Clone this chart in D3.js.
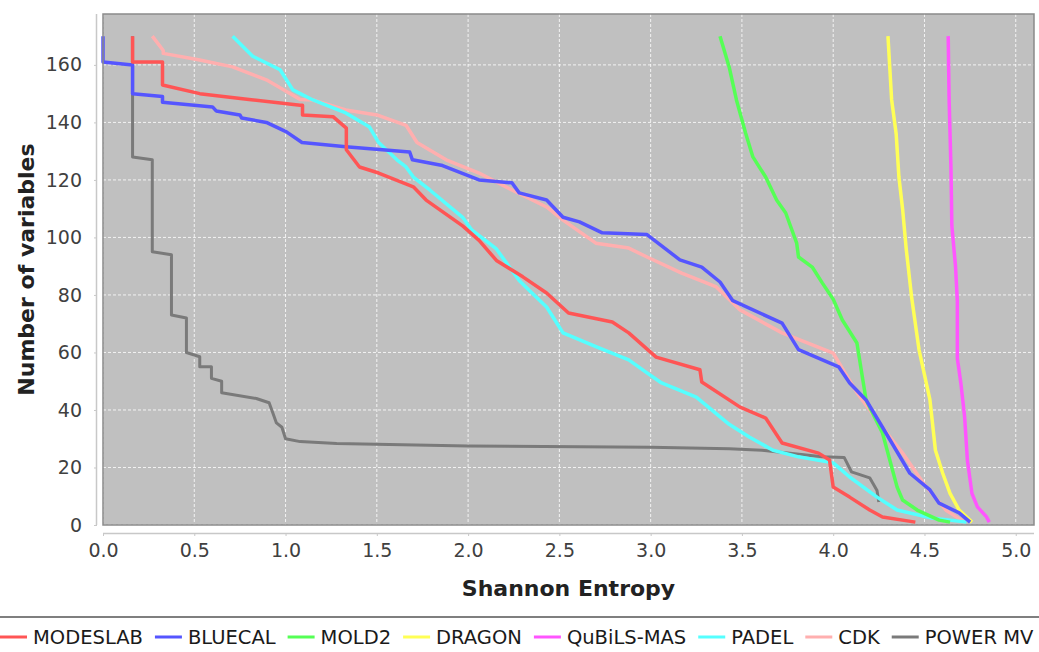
<!DOCTYPE html>
<html>
<head>
<meta charset="utf-8">
<script src="https://cdn.jsdelivr.net/npm/d3@7"></script>
<style>
	body { margin: 0; background: #fff; }
	svg { display: block; font-family: "DejaVu Sans", sans-serif; }
</style>
</head>
<body>
<div id="graph"></div>
<script>
// series names, in legend order
var seriesNames = ["MODESLAB", "BLUECAL", "MOLD2", "DRAGON", "QuBiLS-MAS", "PADEL", "CDK", "POWER MV"];

// [Shannon entropy, number of variables]
var modeslab = [[0.162,170],[0.162,161],[0.326,161],[0.326,153],[0.53,150],[0.80,148],[1.08,146],[1.093,146],[1.093,142.6],
	[1.26,142],[1.333,138],[1.333,130.5],[1.405,124.5],[1.51,122.4],[1.70,117.6],[1.77,113],[1.97,104],[2.06,99],[2.155,92],
	[2.30,86.3],[2.43,80.7],[2.55,73.7],[2.79,70.6],[2.88,66.8],[3.03,58.4],[3.27,54],[3.28,49.7],[3.49,41],[3.63,37.2],
	[3.72,28.5],[3.92,25],[3.98,22.6],[4.0,13.2],[4.09,9.7],[4.2,5.2],[4.27,2.8],[4.45,1]];
var bluecal = [[0,170],[0,161],[0.162,160],[0.162,150],[0.326,149],[0.326,147],[0.60,145.4],[0.62,144],[0.75,142.6],
	[0.76,141.5],[0.895,140],[1.005,136.7],[1.09,133],[1.33,131.5],[1.68,129.7],[1.695,127],[1.86,125],[2.06,120],[2.24,119],
	[2.28,115.5],[2.43,113],[2.52,107],[2.61,105.4],[2.735,101.6],[2.98,101],[3.16,92.2],[3.28,89.7],[3.38,84.5],[3.45,78],
	[3.72,70.2],[3.81,61],[4.03,55],[4.09,49.4],[4.18,43.5],[4.27,34],[4.42,18],[4.53,12.2],[4.58,7.6],[4.69,4.2],[4.75,1]];
var mold2 = [[3.38,170],[3.43,159.3],[3.47,147.8],[3.52,136.3],[3.56,128],[3.63,121],[3.69,113],[3.74,108.5],[3.80,98],
	[3.81,93.2],[3.885,89.7],[3.94,84.2],[4.0,78.5],[4.05,71.3],[4.13,63.3],[4.18,43.5],[4.27,32],[4.35,13.2],[4.38,8.7],
	[4.46,5.2],[4.58,1.7],[4.64,1]];
var dragon = [[4.30,170],[4.31,159],[4.32,148],[4.345,136],[4.36,121],[4.38,110],[4.40,96],[4.43,79],[4.47,61],[4.53,43.5],
	[4.56,26],[4.60,18],[4.64,11],[4.69,5.2],[4.76,1]];
var qubils = [[4.63,170],[4.635,148],[4.645,124.5],[4.65,104],[4.67,90],[4.68,78],[4.68,58],[4.70,49],[4.72,37.6],[4.735,22.6],
	[4.76,11],[4.79,6.3],[4.84,2.8],[4.855,1]];
var padel = [[0.71,170],[0.82,163],[0.97,158.3],[1.04,151.3],[1.15,147.8],[1.33,143.3],[1.46,138.4],[1.51,133],[1.61,127],
	[1.66,124.5],[1.70,121],[1.79,116.5],[1.97,107],[2.02,102.6],[2.155,96],[2.28,85],[2.35,80.7],[2.43,75.8],[2.52,66.8],
	[2.70,62],[2.88,57.4],[2.98,52.9],[3.06,49.4],[3.25,44.5],[3.43,35],[3.54,30.6],[3.67,26],[3.81,23.7],[4.0,21.6],
	[4.09,16.7],[4.24,9.7],[4.35,5.2],[4.54,2.4],[4.73,1]];
var cdk = [[0.27,170],[0.33,165],[0.33,164],[0.53,161.7],[0.71,159.3],[0.895,154.8],[1.08,148],[1.15,147.8],[1.33,144.3],
	[1.50,142.6],[1.66,139],[1.72,133],[1.88,127],[2.06,122.4],[2.24,116.5],[2.43,110.6],[2.52,106],[2.70,98],[2.88,96.3],
	[2.98,93.2],[3.17,87.6],[3.36,82.8],[3.49,74.8],[3.72,66.8],[4.0,59.8],[4.13,46],[4.27,34],[4.38,25],[4.5,14],[4.62,5],[4.72,1]];
var powermv = [[0.162,170],[0.162,128],[0.27,127],[0.27,95],[0.375,94],[0.375,73],[0.457,72],[0.457,60],[0.53,58.5],[0.53,55],
	[0.594,55],[0.594,51],[0.65,50],[0.65,46],[0.84,44],[0.91,42.5],[0.93,39],[0.95,35.5],[0.98,34],[1.0,30],[1.08,29],
	[1.28,28.3],[2.0,27.5],[3.0,27],[3.43,26.5],[3.61,26],[3.94,23.7],[4.06,23.5],[4.10,18.5],[4.2,16.4],[4.24,12],[4.25,8]];

var xTicks = [0, 0.5, 1, 1.5, 2, 2.5, 3, 3.5, 4, 4.5, 5],
	yTicks = [0, 20, 40, 60, 80, 100, 120, 140, 160];

var	SVGwidth = 1039,
	SVGheight = 652,
	plot = {left: 103, right: 1034, top: 14, bottom: 525};

var svg = d3.select('div#graph')
				.append('svg')
				.attr('width', SVGwidth)
				.attr('height', SVGheight);

var x = d3.scaleLinear()
				.domain([0, 5.1])
				.range([plot.left, plot.right]),
	y = d3.scaleLinear()
				.domain([0, 177.7])
				.range([plot.bottom, plot.top]),
	color = d3.scaleOrdinal()
				.domain(seriesNames)
				.range(["#ff5555", "#5555ff", "#55ff55", "#ffff55", "#ff55ff", "#55ffff", "#ffafaf", "#7a7a7a"]);

var allSeries = [modeslab, bluecal, mold2, dragon, qubils, padel, cdk, powermv];

// plot background
svg.append("rect")
	.attr("x", plot.left)
	.attr("y", plot.top)
	.attr("width", plot.right - plot.left)
	.attr("height", plot.bottom - plot.top)
	.attr("fill", "#c0c0c0");

// grid
var grid = svg.append("g").attr("class", "grid");
grid.selectAll("line.gx")
	.data(xTicks).enter()
	.append("line")
	.attr("class", "gx")
	.attr("x1", function(d){ return x(d); })
	.attr("x2", function(d){ return x(d); })
	.attr("y1", plot.top)
	.attr("y2", plot.bottom);
grid.selectAll("line.gy")
	.data(yTicks).enter()
	.append("line")
	.attr("class", "gy")
	.attr("x1", plot.left)
	.attr("x2", plot.right)
	.attr("y1", function(d){ return y(d); })
	.attr("y2", function(d){ return y(d); });
grid.selectAll("line")
	.attr("stroke", "#ffffff")
	.attr("stroke-opacity", 0.8)
	.attr("stroke-width", 1)
	.attr("stroke-dasharray", "3,2");

// series lines, last series underneath (renderer draws in reverse)
var line = d3.line()
				.x(function(d){ return x(d[0]); })
				.y(function(d){ return y(d[1]); });

svg.append("g")
	.attr("class", "series")
	.selectAll("path")
	.data(d3.range(allSeries.length).reverse()).enter()
	.append("path")
	.attr("d", function(i){ return line(allSeries[i]); })
	.attr("fill", "none")
	.attr("stroke", function(i){ return color(seriesNames[i]); })
	.attr("stroke-width", function(i){ return i == 7 ? 3 : 3.5; })
	.attr("stroke-linejoin", "round");

// plot outline
svg.append("rect")
	.attr("x", plot.left)
	.attr("y", plot.top)
	.attr("width", plot.right - plot.left)
	.attr("height", plot.bottom - plot.top)
	.attr("fill", "none")
	.attr("stroke", "#8a8a8a")
	.attr("stroke-width", 1.5);

// axes, offset from the plot like JFreeChart
var xAxis = svg.append("g")
				.attr("transform", "translate(0," + 533 + ")")
				.call(d3.axisBottom(x).tickValues(xTicks).tickFormat(d3.format(".1f")).tickSize(3).tickSizeOuter(0).tickPadding(8));
var yAxis = svg.append("g")
				.attr("transform", "translate(" + 97 + ",0)")
				.call(d3.axisLeft(y).tickValues(yTicks).tickSize(3).tickSizeOuter(0).tickPadding(12));

svg.selectAll(".domain").attr("stroke", "#c8c8c8").attr("stroke-width", 1.5);
svg.selectAll(".tick line").attr("stroke", "#c8c8c8");
svg.selectAll(".tick text")
	.attr("font-family", "DejaVu Sans, sans-serif")
	.attr("font-size", 19)
	.attr("fill", "#404040");
yAxis.select(".domain").attr("d", "M-0.5," + plot.top + "V" + plot.bottom);
xAxis.select(".domain").attr("d", "M" + plot.left + ",0.5H" + plot.right);

// axis titles
svg.append("text")
	.attr("x", (plot.left + plot.right) / 2)
	.attr("y", 596)
	.attr("text-anchor", "middle")
	.attr("font-size", 22)
	.attr("font-weight", "bold")
	.attr("fill", "#222")
	.text("Shannon Entropy");
svg.append("text")
	.attr("transform", "translate(34," + (plot.top + plot.bottom) / 2 + ") rotate(-90)")
	.attr("text-anchor", "middle")
	.attr("font-size", 22)
	.attr("font-weight", "bold")
	.attr("fill", "#222")
	.text("Number of variables");

// legend
svg.append("line")
	.attr("x1", 0).attr("x2", SVGwidth)
	.attr("y1", 617).attr("y2", 617)
	.attr("stroke", "#555")
	.attr("stroke-width", 1.5);

var legend = svg.append("g").attr("class", "legend"),
	cursor = 0;
seriesNames.forEach(function(name){
	var item = legend.append("g").attr("transform", "translate(" + cursor + ",0)");
	item.append("line")
		.attr("x1", 0).attr("x2", 27)
		.attr("y1", 637).attr("y2", 637)
		.attr("stroke", color(name))
		.attr("stroke-width", 3);
	var t = item.append("text")
		.attr("x", 33)
		.attr("y", 644)
		.attr("font-size", 19.5)
		.attr("fill", "#1a1a1a")
		.text(name);
	cursor += 33 + t.node().getComputedTextLength() + 12;
});
</script>
</body>
</html>
